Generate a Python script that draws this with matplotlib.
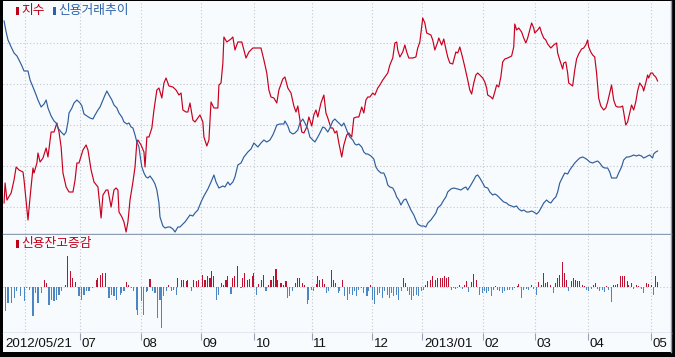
import matplotlib
matplotlib.use('Agg')
import matplotlib.pyplot as plt
import matplotlib.transforms as mtransforms
from matplotlib.patches import Rectangle

# ---------------- data (x = trading-day position since 2012/05/21) ----------------
red_day = [
    0.0, 0.4, 1.1, 2.7, 3.8, 4.6, 5.7, 7.2, 7.6, 9.1,
    9.9, 11.0, 11.4, 12.5, 12.9, 13.7, 14.8, 16.0, 16.7, 17.9,
    19.0, 20.1, 20.9, 21.7, 22.4, 23.6, 24.7, 26.2, 27.0, 27.7,
    28.5, 30.0, 31.2, 31.9, 33.1, 34.2, 35.7, 36.9, 37.6, 38.8,
    39.5, 40.7, 41.8, 42.6, 43.3, 43.7, 44.8, 45.6, 46.4, 47.1,
    47.9, 49.0, 49.8, 50.5, 50.9, 52.1, 53.2, 53.6, 54.3, 55.1,
    56.2, 57.0, 58.1, 58.9, 60.0, 60.8, 61.6, 62.7, 64.2, 65.4,
    66.5, 67.3, 68.0, 69.2, 69.9, 70.7, 71.8, 72.6, 73.7, 74.5,
    75.6, 76.0, 77.1, 77.9, 78.7, 79.8, 81.3, 81.7, 82.5, 83.2,
    83.6, 84.7, 86.3, 87.0, 87.8, 88.9, 90.4, 92.0, 93.1, 94.6,
    95.8, 97.7, 98.8, 99.9, 100.7, 101.5, 102.6, 103.7, 104.5, 106.0,
    106.8, 107.9, 109.1, 110.2, 111.0, 111.7, 112.1, 113.2, 114.0, 115.1,
    115.9, 117.0, 117.8, 118.6, 119.3, 120.5, 121.6, 122.4, 123.1, 124.3,
    125.0, 125.8, 126.5, 127.3, 128.4, 129.2, 130.3, 131.1, 132.2, 133.0,
    134.1, 134.9, 136.0, 136.8, 137.6, 138.3, 139.1, 140.2, 141.0, 142.1,
    142.9, 144.0, 144.8, 145.9, 146.7, 147.8, 148.6, 149.3, 149.7, 150.5,
    151.6, 152.4, 153.1, 153.9, 155.4, 156.6, 157.3, 158.1, 159.2, 160.0,
    160.7, 161.5, 162.3, 163.0, 163.8, 164.9, 165.3, 166.4, 167.2, 168.0,
    168.7, 169.5, 170.6, 171.8, 172.5, 173.3, 174.4, 175.2, 176.3, 177.1,
    177.8, 178.6, 179.4, 180.1, 180.9, 182.0, 182.8, 183.5, 183.9, 185.1,
    185.8, 186.6, 187.3, 188.1, 188.9, 189.6, 190.4, 191.5, 193.0, 193.8,
    194.2, 194.9, 195.7, 196.8, 197.6, 198.4, 199.1, 199.9, 200.6, 201.4,
    201.8, 202.9, 203.7, 204.4, 205.2, 206.0, 206.7, 207.9, 209.0, 210.1,
    210.5, 211.3, 212.4, 212.8, 213.6, 214.3, 214.7, 216.2, 217.0, 217.7,
    218.5, 219.6, 220.4, 221.2, 221.9, 222.3, 223.1, 223.8, 224.6, 225.3,
    226.1, 226.9, 228.0, 228.8, 229.5, 230.3, 231.0, 231.8, 232.6, 233.3,
    234.5, 235.2, 235.6, 236.4, 237.1, 237.9, 238.6, 239.4, 240.2, 240.9,
    241.7, 242.8, 243.2, 244.0, 244.7, 245.1, 245.9, 246.6, 247.0, 247.8, 248.5,
]
index_vals = [
    1857, 1877, 1860, 1867, 1880, 1893, 1890, 1888, 1880, 1840,
    1863, 1892, 1887, 1897, 1907, 1898, 1902, 1912, 1903, 1928,
    1928, 1937, 1928, 1913, 1887, 1873, 1868, 1868, 1880, 1897,
    1897, 1910, 1915, 1910, 1890, 1878, 1873, 1842, 1865, 1870,
    1870, 1853, 1870, 1872, 1870, 1848, 1843, 1838, 1828, 1838,
    1860, 1878, 1893, 1918, 1920, 1915, 1908, 1893, 1923, 1923,
    1932, 1950, 1970, 1972, 1962, 1977, 1982, 1974, 1973, 1970,
    1965, 1967, 1950, 1948, 1948, 1957, 1940, 1938, 1942, 1945,
    1938, 1923, 1914, 1920, 1958, 1952, 1952, 1975, 1977, 1997,
    2023, 2018, 2021, 2023, 2010, 2018, 2018, 2002, 2008, 2012,
    2012, 2012, 2000, 1987, 1970, 1963, 1962, 1957, 1970, 1981,
    1983, 1972, 1967, 1954, 1948, 1954, 1947, 1928, 1927, 1933,
    1943, 1934, 1945, 1950, 1943, 1957, 1965, 1947, 1942, 1932,
    1932, 1927, 1929, 1917, 1903, 1915, 1925, 1927, 1923, 1942,
    1943, 1943, 1953, 1947, 1960, 1963, 1963, 1967, 1965, 1972,
    1975, 1980, 1983, 1987, 1995, 2002, 2017, 2018, 2010, 2003,
    2008, 2015, 2008, 2002, 2002, 2003, 2012, 2018, 2042, 2037,
    2027, 2026, 2025, 2020, 2010, 2018, 2022, 2015, 2021, 2011,
    2003, 1997, 1996, 2008, 2007, 2013, 2002, 1993, 1980, 1970,
    1966, 1977, 1985, 1987, 1985, 1982, 1978, 1972, 1965, 1963,
    1961, 1968, 1975, 1973, 1983, 1998, 2001, 2002, 2004, 2013,
    2036, 2030, 2032, 2028, 2022, 2017, 2022, 2030, 2037, 2032,
    2027, 2030, 2033, 2027, 2022, 2020, 2016, 2012, 2015, 2017,
    2007, 2000, 1991, 1997, 1998, 1987, 1977, 1974, 1990, 2001,
    2006, 2011, 2012, 2015, 2020, 2013, 2008, 2005, 2003, 1987,
    1962, 1954, 1950, 1952, 1958, 1967, 1975, 1960, 1954, 1953,
    1953, 1954, 1948, 1935, 1938, 1947, 1955, 1950, 1958, 1969,
    1977, 1973, 1969, 1977, 1985, 1982, 1987, 1987, 1985, 1983, 1979,
]

blue_day = [
    0.0, 0.8, 1.5, 2.7, 3.8, 4.9, 5.7, 6.8, 7.6, 9.1,
    9.9, 11.0, 12.2, 12.9, 14.1, 15.2, 16.0, 16.7, 17.9, 19.0,
    19.8, 20.5, 21.7, 22.8, 23.6, 24.3, 24.7, 25.8, 26.6, 27.7,
    28.9, 29.6, 30.4, 31.5, 32.7, 33.8, 34.6, 35.7, 36.5, 37.6,
    38.4, 39.1, 39.9, 41.0, 41.8, 42.9, 43.7, 44.8, 45.6, 46.7,
    47.5, 48.3, 49.0, 49.8, 50.5, 51.3, 51.7, 52.4, 53.2, 54.0,
    54.7, 55.5, 56.6, 57.4, 58.1, 58.9, 59.3, 60.4, 61.2, 62.3,
    63.1, 64.2, 65.0, 66.1, 66.9, 68.0, 68.8, 69.9, 70.7, 71.8,
    72.6, 73.7, 74.9, 76.0, 77.5, 78.7, 79.8, 80.6, 81.7, 83.2,
    84.0, 85.1, 85.9, 87.0, 87.8, 88.9, 90.1, 91.2, 92.7, 93.9,
    95.0, 96.5, 97.7, 98.8, 99.9, 101.1, 102.2, 103.0, 103.7, 104.9,
    106.4, 106.8, 107.9, 108.7, 109.8, 110.6, 111.7, 112.5, 113.6, 114.4,
    115.5, 116.3, 117.4, 118.2, 119.3, 120.1, 121.2, 122.0, 123.1, 123.9,
    125.0, 125.8, 126.5, 127.3, 128.4, 129.2, 130.0, 130.7, 131.5, 132.6,
    133.4, 134.1, 134.9, 136.0, 136.8, 137.6, 138.3, 139.5, 140.6, 141.4,
    142.1, 143.3, 144.4, 145.2, 145.9, 146.7, 147.8, 148.6, 149.3, 150.1,
    150.9, 152.0, 152.8, 153.5, 154.7, 155.8, 156.6, 157.3, 158.5, 159.6,
    160.4, 161.1, 162.3, 163.4, 164.2, 164.9, 166.1, 167.2, 168.0, 168.7,
    169.9, 171.0, 172.5, 173.7, 174.8, 175.6, 176.3, 177.5, 178.6, 179.4,
    180.1, 180.9, 182.0, 182.8, 183.9, 184.7, 185.8, 186.6, 187.3, 188.1,
    189.2, 190.0, 191.1, 191.9, 193.0, 193.8, 194.9, 195.7, 196.8, 197.6,
    198.7, 199.5, 200.6, 201.4, 202.5, 203.3, 204.4, 205.2, 206.3, 207.1,
    207.9, 209.0, 209.8, 210.5, 211.3, 212.4, 213.2, 214.3, 215.1, 216.2,
    217.0, 218.1, 218.9, 220.0, 220.8, 221.9, 222.7, 223.8, 224.6, 225.7,
    226.5, 227.6, 228.4, 229.5, 230.3, 231.0, 231.8, 232.9, 233.7, 234.8,
    235.6, 236.7, 237.5, 238.6, 239.4, 240.5, 241.3, 242.4, 243.2, 244.0,
    244.7, 245.5, 246.6, 247.0, 247.8, 248.5,
]
credit_vals = [
    713, 702, 694, 687, 681, 678, 674, 668, 663, 663,
    654, 647, 639, 634, 627, 630, 634, 626, 618, 613,
    611, 606, 602, 599, 602, 612, 621, 626, 631, 634,
    631, 628, 620, 618, 616, 615, 619, 624, 627, 634,
    639, 643, 639, 634, 629, 626, 621, 617, 612, 610,
    611, 607, 606, 599, 592, 587, 579, 567, 561, 557,
    556, 558, 554, 550, 544, 531, 517, 508, 506, 507,
    507, 505, 502, 507, 507, 510, 512, 516, 519, 518,
    521, 524, 532, 538, 545, 552, 559, 552, 546, 548,
    547, 552, 549, 552, 557, 569, 571, 577, 582, 585,
    591, 587, 591, 594, 592, 594, 599, 604, 609, 610,
    610, 613, 608, 602, 600, 601, 604, 611, 615, 611,
    605, 597, 594, 592, 597, 601, 607, 606, 602, 606,
    613, 615, 613, 611, 608, 611, 606, 601, 597, 594,
    590, 589, 590, 587, 582, 580, 580, 578, 575, 567,
    564, 561, 561, 556, 549, 547, 546, 542, 537, 534,
    529, 534, 535, 531, 524, 519, 514, 510, 508, 508,
    507, 511, 514, 518, 521, 526, 529, 534, 537, 542,
    545, 546, 545, 544, 546, 547, 544, 549, 554, 558,
    559, 556, 551, 547, 546, 542, 539, 540, 539, 537,
    534, 532, 531, 529, 528, 527, 528, 525, 523, 524,
    522, 522, 523, 522, 520, 522, 527, 531, 534, 532,
    531, 535, 537, 542, 551, 557, 561, 560, 564, 568,
    571, 574, 576, 577, 576, 574, 572, 571, 572, 573,
    571, 567, 566, 566, 562, 556, 556, 556, 561, 567,
    574, 577, 577, 578, 579, 578, 579, 578, 576, 577,
    578, 579, 576, 580, 582, 583,
]

bar_day = [
    0.4, 1.5, 2.7, 3.8, 4.9, 6.1, 7.6, 8.7, 9.5, 11.0,
    11.8, 12.9, 14.1, 15.2, 16.0, 17.1, 18.2, 19.0, 20.1, 20.9,
    22.0, 23.2, 24.3, 25.1, 26.2, 27.0, 28.5, 29.6, 30.4, 31.5,
    32.3, 33.8, 35.0, 35.7, 36.5, 37.6, 38.4, 39.9, 41.0, 41.8,
    42.9, 44.1, 44.8, 45.6, 46.7, 47.5, 48.6, 49.4, 50.2, 50.9,
    52.1, 53.2, 54.0, 54.7, 55.5, 56.6, 57.4, 58.5, 59.3, 60.0,
    60.8, 61.9, 62.7, 63.8, 64.6, 65.4, 66.1, 67.3, 68.4, 69.2,
    69.9, 71.1, 72.2, 73.0, 74.1, 75.6, 76.4, 77.5, 78.3, 79.0,
    79.8, 80.9, 81.7, 82.8, 83.6, 84.4, 85.1, 86.3, 87.0, 87.8,
    88.9, 90.1, 90.8, 91.6, 92.7, 93.5, 94.6, 95.0, 96.1, 96.9,
    98.0, 98.8, 99.6, 100.7, 101.5, 102.6, 103.4, 104.1, 105.3, 106.4,
    107.2, 107.9, 108.7, 109.8, 111.0, 111.7, 112.5, 113.6, 114.4, 115.5,
    115.9, 117.0, 117.8, 118.9, 119.3, 120.1, 121.2, 122.0, 122.7, 123.5,
    124.6, 125.4, 126.2, 127.0, 127.7, 128.8, 129.6, 130.7, 131.5, 132.6,
    133.4, 134.1, 134.9, 136.0, 136.8, 138.0, 138.7, 139.5, 140.2, 141.0,
    142.1, 142.9, 144.0, 144.8, 145.9, 146.7, 147.4, 148.2, 149.3, 150.1,
    151.2, 152.0, 152.8, 153.5, 154.3, 155.0, 155.8, 156.9, 157.7, 158.8,
    159.6, 160.4, 161.1, 162.3, 163.0, 164.2, 164.9, 166.1, 166.8, 167.6,
    168.3, 169.1, 170.2, 171.0, 171.8, 172.5, 173.3, 174.4, 175.2, 175.9,
    176.7, 177.8, 178.6, 179.7, 180.9, 182.0, 182.8, 183.5, 184.3, 185.4,
    186.2, 187.0, 187.7, 188.5, 189.6, 190.4, 191.5, 192.3, 193.4, 194.2,
    195.3, 195.7, 196.8, 197.6, 198.7, 199.5, 200.6, 201.4, 202.5, 203.3,
    204.4, 205.2, 206.0, 206.7, 207.9, 209.0, 209.8, 210.5, 211.3, 212.4,
    213.2, 213.9, 214.7, 215.8, 216.6, 217.4, 218.1, 218.9, 220.0, 220.8,
    221.5, 222.3, 223.4, 224.2, 225.0, 225.7, 226.5, 227.6, 228.4, 229.1,
    229.9, 231.0, 231.8, 232.6, 233.3, 234.5, 235.2, 236.0, 237.1, 237.5,
    238.6, 239.4, 240.5, 241.3, 242.4, 243.2, 244.3, 245.1, 246.2, 247.0,
    247.8, 248.5,
]
balance_change = [
    -240, -160, -160, -110, -40, -90, -140, -10, -30, -290,
    -60, -160, -60, 70, 40, -180, -130, -140, -130, -80,
    -40, 20, 310, 160, 90, 50, -90, -130, -80, -40,
    -40, -10, 70, 90, 120, 140, 140, -110, -80, -90,
    -130, -80, -60, -40, 50, 20, -10, -40, -230, -280,
    -140, -280, -50, -40, 80, -40, -60, -310, -130, -410,
    -90, -40, 20, -40, -30, -80, 90, 70, 70, 60,
    70, -40, 70, 60, 70, 120, 70, 110, 90, 160,
    110, -130, -80, 40, 20, 70, 110, -70, 90, 110,
    210, -10, 90, 140, 70, 80, 110, 140, -80, 30,
    70, 120, -40, 20, 70, 110, 180, 70, 40, 20,
    60, -110, -90, -40, 40, 90, 90, 40, 20, -170,
    -130, -30, -40, 30, 110, 70, 80, 30, -60, -40,
    170, 70, 40, -60, -40, 70, -90, -130, -70, -80,
    -40, -90, -30, -10, -60, -90, -40, 20, -130, -170,
    -80, -60, -110, -40, -80, -110, -60, -90, -80, -130,
    -40, 90, 40, -40, -80, -130, -90, -80, -90, -40,
    -30, 20, 60, 70, 110, 70, 90, 90, 90, 110,
    90, 100, -30, -10, -20, -10, 20, -20, 20, 60,
    -50, 50, 130, 70, -80, -60, -40, -60, -40, -90,
    -30, 10, -30, -40, -60, -40, -30, -30, -30, -10,
    10, 30, -110, -30, -20, -30, 20, -20, -80, 50,
    20, 140, 40, 50, 20, -60, 40, 90, 120, 250,
    140, 70, -40, 60, 90, 70, 60, 60, 20, 10,
    -30, -40, -20, 20, 40, -20, -40, -30, -50, 10,
    -30, -150, 20, 20, 30, 110, 110, 110, 60, 20,
    40, -20, 20, 10, -20, -60, 40, 30, 20, -80,
    110, 50,
]

tick_days = [0, 29, 52, 75, 95, 117, 140, 159, 182, 202, 222, 246]
tick_labels = ['2012/05/21', '07', '08', '09', '10', '11', '12', '2013/01',
               '02', '03', '04', '05']
grid_days = [8, 29, 52, 75, 95, 117, 140, 159, 182, 202, 222, 246]
index_grid = [1853, 1894, 1935, 1976, 2017]

series_names = ['지수', '신용거래추이']
bar_name = '신용잔고증감'

# ---------------- styling ----------------
W, H = 675, 357
BG = '#F8FBFE'
GRID = '#C3C8D0'
EDGE = '#8E9CB4'
RED = '#C8001E'
BLUE = '#2F5D9C'
BAR_RED = '#C01030'
BAR_BLUE = '#4A86C4'
KR = ['Noto Sans CJK KR', 'DejaVu Sans']
NUM = ['Liberation Sans', 'DejaVu Sans']

fig = plt.figure(figsize=(W / 100, H / 100), dpi=100, facecolor='black')


def fx(px):
    return px / W


def fy(py):
    return 1 - py / H


left, right = fx(3), fx(671)
ax_top = fig.add_axes([left, fy(234), right - left, fy(1) - fy(234)], facecolor=BG)
ax_bot = fig.add_axes([left, fy(332.5), right - left, fy(234.5) - fy(332.5)], facecolor=BG)
ax_lab = fig.add_axes([left, fy(352), right - left, fy(333) - fy(352)], facecolor=BG)

xlim = (-0.4, 253.6)
for ax in (ax_top, ax_bot, ax_lab):
    ax.set_xlim(*xlim)
    for s in ax.spines.values():
        s.set_visible(False)
    ax.spines['right'].set_visible(True)
    ax.spines['right'].set_color(EDGE)
    ax.spines['right'].set_linewidth(1.0)

grid_kw = dict(color=GRID, linewidth=0.8, linestyle=(0, (1, 2)))

# top panel
ax_top.set_ylim(1826, 2059)
ax_top.set_yticks(index_grid)
ax_top.set_xticks(grid_days)
ax_top.grid(True, **grid_kw)
ax_top.tick_params(length=0, labelleft=False, labelbottom=False)
ax_top.spines['bottom'].set_visible(True)
ax_top.spines['bottom'].set_color(EDGE)
ax_top.spines['bottom'].set_linewidth(1.0)

n = min(len(red_day), len(index_vals))
ax_top.plot(red_day[:n], index_vals[:n], color=RED, linewidth=0.85, zorder=3)

ax_tw = ax_top.twinx()
ax_tw.set_ylim(500, 733)
ax_tw.set_xlim(*xlim)
ax_tw.axis('off')
m = min(len(blue_day), len(credit_vals))
ax_tw.plot(blue_day[:m], credit_vals[:m], color=BLUE, linewidth=0.85, zorder=2)

# bottom panel
ax_bot.set_ylim(-450, 520)
ax_bot.set_xticks(grid_days)
ax_bot.set_yticks([0])
ax_bot.grid(True, **grid_kw)
ax_bot.tick_params(length=0, labelleft=False, labelbottom=False)
ax_bot.spines['bottom'].set_visible(True)
ax_bot.spines['bottom'].set_color(EDGE)
ax_bot.spines['bottom'].set_linewidth(1.0)
k = min(len(bar_day), len(balance_change))
bar_colors = [BAR_RED if v > 0 else BAR_BLUE for v in balance_change[:k]]
ax_bot.bar(bar_day[:k], balance_change[:k], width=0.4, color=bar_colors,
           linewidth=0, zorder=3)

# label strip
ax_lab.set_ylim(0, 1)
ax_lab.set_yticks([])
ax_lab.set_xticks(tick_days[1:])
ax_lab.tick_params(axis='x', bottom=False, top=True, direction='in', length=5,
                   width=0.8, color='#9AA3B3', labelbottom=False, labeltop=False)
blend = mtransforms.blended_transform_factory(ax_lab.transData, ax_lab.transAxes)
for d, lab in zip(tick_days, tick_labels):
    ax_lab.annotate(lab, xy=(d, 0.40), xycoords=blend, xytext=(1.2, 0),
                    textcoords='offset points', ha='left', va='center',
                    fontsize=9.6, family=NUM, color='#111111')

# legends
def legend_item(px, py, text, color, marker_color):
    fig.add_artist(Rectangle((fx(px), fy(py + 4)), 2.5 / W, 7.5 / H,
                             transform=fig.transFigure, color=marker_color, lw=0))
    fig.text(fx(px + 5), fy(py), text, color=color, fontsize=9.2, family=KR,
             ha='left', va='center')

legend_item(16, 10.5, series_names[0], '#C00018', '#C00018')
legend_item(53, 10.5, series_names[1], '#2D62AA', '#2D62AA')
legend_item(16, 243.5, bar_name, '#C00018', '#C00018')

fig.savefig('out.png', dpi=100, facecolor=fig.get_facecolor())
